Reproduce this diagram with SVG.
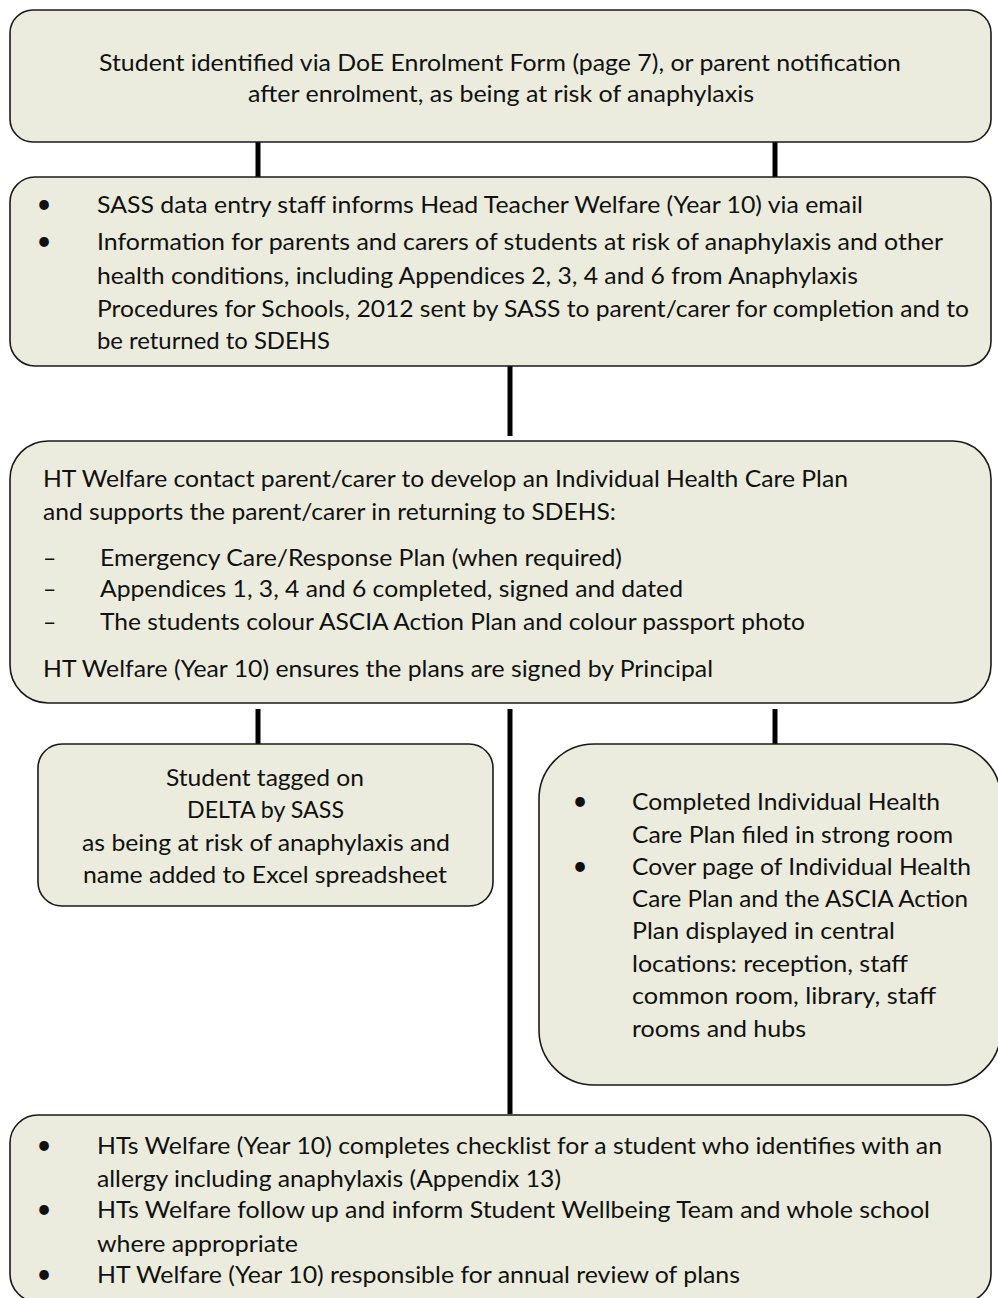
<svg xmlns="http://www.w3.org/2000/svg" width="998" height="1298" viewBox="0 0 998 1298">
  <style>
    .box { fill: #ebecdd; stroke: #1a1a1a; stroke-width: 1.6; }
    .link { stroke: #000; stroke-width: 5; fill: none; }
    text { font-family: Lato, "Liberation Sans", sans-serif; font-size: 23px; fill: #111; }
    .c { text-anchor: middle; }
    .dot { text-anchor: middle; font-size: 26px; }
  </style>
  <rect width="998" height="1298" fill="#ffffff"/>

  <!-- connectors -->
  <g id="connectors">
    <line class="link" x1="258" y1="142" x2="258" y2="177"/>
    <line class="link" x1="775" y1="142" x2="775" y2="177"/>
    <line class="link" x1="510" y1="366" x2="510" y2="436"/>
    <line class="link" x1="258" y1="709" x2="258" y2="744"/>
    <line class="link" x1="775" y1="709" x2="775" y2="744"/>
    <line class="link" x1="510" y1="709" x2="510" y2="1114"/>
  </g>

  <!-- identification -->
  <g id="identified">
    <rect class="box" x="10" y="10" width="981" height="132" rx="23"/>
    <text x="99" y="71" textLength="802" lengthAdjust="spacingAndGlyphs">Student identified via DoE Enrolment Form (page 7), or parent notification</text>
    <text x="248" y="102" textLength="506" lengthAdjust="spacingAndGlyphs">after enrolment, as being at risk of anaphylaxis</text>
  </g>

  <!-- SASS notification -->
  <g id="sass-inform">
    <rect class="box" x="10" y="177" width="981" height="189" rx="25"/>
    <text class="dot" x="44" y="213">•</text>
    <text x="97" y="213" textLength="766" lengthAdjust="spacingAndGlyphs">SASS data entry staff informs Head Teacher Welfare (Year 10) via email</text>
    <text class="dot" x="44" y="250">•</text>
    <text x="97" y="250" textLength="846" lengthAdjust="spacingAndGlyphs">Information for parents and carers of students at risk of anaphylaxis and other</text>
    <text x="97" y="284" textLength="761" lengthAdjust="spacingAndGlyphs">health conditions, including Appendices 2, 3, 4 and 6 from Anaphylaxis</text>
    <text x="97" y="317" textLength="872" lengthAdjust="spacingAndGlyphs">Procedures for Schools, 2012 sent by SASS to parent/carer for completion and to</text>
    <text x="97" y="349" textLength="233" lengthAdjust="spacingAndGlyphs">be returned to SDEHS</text>
  </g>

  <!-- care plan development -->
  <g id="care-plan">
    <rect class="box" x="10" y="441" width="981" height="262" rx="38"/>
    <text x="43" y="487" textLength="805" lengthAdjust="spacingAndGlyphs">HT Welfare contact parent/carer to develop an Individual Health Care Plan</text>
    <text x="43" y="520" textLength="573" lengthAdjust="spacingAndGlyphs">and supports the parent/carer in returning to SDEHS:</text>
    <text x="43" y="566">–</text>
    <text x="100" y="566" textLength="522" lengthAdjust="spacingAndGlyphs">Emergency Care/Response Plan (when required)</text>
    <text x="43" y="597">–</text>
    <text x="100" y="597" textLength="583" lengthAdjust="spacingAndGlyphs">Appendices 1, 3, 4 and 6 completed, signed and dated</text>
    <text x="43" y="630">–</text>
    <text x="100" y="630" textLength="705" lengthAdjust="spacingAndGlyphs">The students colour ASCIA Action Plan and colour passport photo</text>
    <text x="43" y="677" textLength="670" lengthAdjust="spacingAndGlyphs">HT Welfare (Year 10) ensures the plans are signed by Principal</text>
  </g>

  <!-- DELTA tagging -->
  <g id="delta-tag">
    <rect class="box" x="38" y="744" width="455" height="162" rx="24"/>
    <text class="c" x="265" y="786" textLength="198" lengthAdjust="spacingAndGlyphs">Student tagged on</text>
    <text class="c" x="265.5" y="818" textLength="157" lengthAdjust="spacingAndGlyphs">DELTA by SASS</text>
    <text class="c" x="266" y="851" textLength="368" lengthAdjust="spacingAndGlyphs">as being at risk of anaphylaxis and</text>
    <text class="c" x="265" y="883" textLength="364" lengthAdjust="spacingAndGlyphs">name added to Excel spreadsheet</text>
  </g>

  <!-- filing and display -->
  <g id="filing">
    <rect class="box" x="539" y="744" width="462" height="341" rx="55"/>
    <text class="dot" x="580" y="810">•</text>
    <text x="632" y="810" textLength="308" lengthAdjust="spacingAndGlyphs">Completed Individual Health</text>
    <text x="632" y="843" textLength="321" lengthAdjust="spacingAndGlyphs">Care Plan filed in strong room</text>
    <text class="dot" x="580" y="875">•</text>
    <text x="632" y="875" textLength="339" lengthAdjust="spacingAndGlyphs">Cover page of Individual Health</text>
    <text x="632" y="907" textLength="336" lengthAdjust="spacingAndGlyphs">Care Plan and the ASCIA Action</text>
    <text x="632" y="939" textLength="263" lengthAdjust="spacingAndGlyphs">Plan displayed in central</text>
    <text x="632" y="972" textLength="276" lengthAdjust="spacingAndGlyphs">locations: reception, staff</text>
    <text x="632" y="1004" textLength="304" lengthAdjust="spacingAndGlyphs">common room, library, staff</text>
    <text x="632" y="1037" textLength="174" lengthAdjust="spacingAndGlyphs">rooms and hubs</text>
  </g>

  <!-- follow-up -->
  <g id="follow-up">
    <rect class="box" x="10" y="1115" width="981" height="187" rx="28"/>
    <text class="dot" x="44" y="1154">•</text>
    <text x="97" y="1154" textLength="845" lengthAdjust="spacingAndGlyphs">HTs Welfare (Year 10) completes checklist for a student who identifies with an</text>
    <text x="97" y="1187" textLength="464" lengthAdjust="spacingAndGlyphs">allergy including anaphylaxis (Appendix 13)</text>
    <text class="dot" x="44" y="1218">•</text>
    <text x="97" y="1218" textLength="833" lengthAdjust="spacingAndGlyphs">HTs Welfare follow up and inform Student Wellbeing Team and whole school</text>
    <text x="97" y="1252" textLength="201" lengthAdjust="spacingAndGlyphs">where appropriate</text>
    <text class="dot" x="44" y="1283">•</text>
    <text x="97" y="1283" textLength="643" lengthAdjust="spacingAndGlyphs">HT Welfare (Year 10) responsible for annual review of plans</text>
  </g>
</svg>
